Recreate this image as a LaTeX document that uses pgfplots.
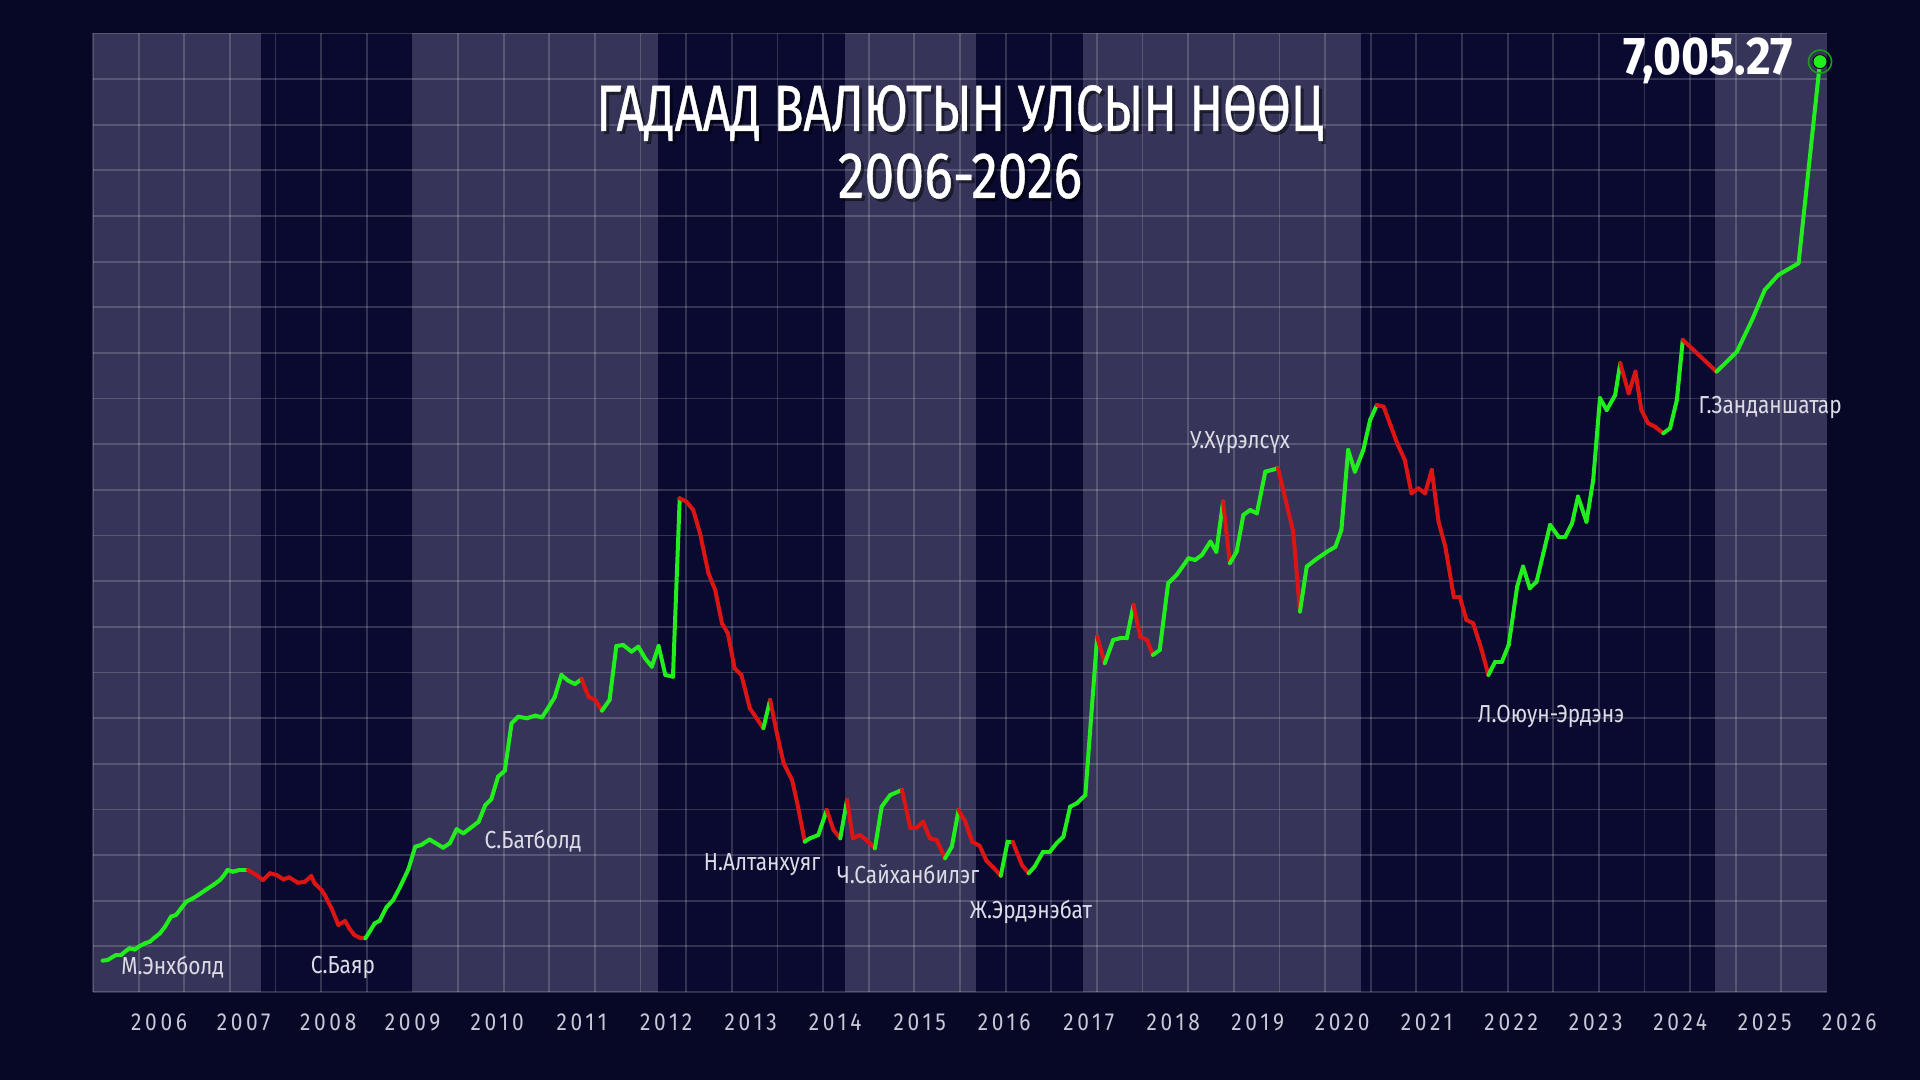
\documentclass[border=0pt]{standalone}
\usepackage{fontspec}
\usepackage{pgfplots}
\usepackage{pgfplotstable}
\pgfplotsset{compat=1.18}
\setmainfont{Fira Sans}
\newfontfamily\titlefont{Fira Sans}[FakeStretch=0.75,FakeBold=0.6]
\newfontfamily\subtitlefont{Fira Sans}[FakeStretch=0.82,FakeBold=0.6]
\newfontfamily\valfont{Fira Sans}[FakeStretch=0.9]
\newfontfamily\namefont{Fira Sans}[FakeStretch=0.85]
\newfontfamily\yearfont{Fira Sans}[FakeStretch=0.85,LetterSpace=15]

\definecolor{bgcol}{HTML}{070726}
\definecolor{banddark}{HTML}{0A0A30}
\definecolor{bandlight}{HTML}{363559}
\definecolor{lgreen}{HTML}{22EE1E}
\definecolor{lred}{HTML}{DD1414}
\definecolor{ringgreen}{HTML}{1C9A1C}
\definecolor{namecol}{HTML}{DCDCE6}
\definecolor{yearcol}{HTML}{C8C8D7}

% FX reserve, mln USD; c = 1 rising (green), 0 falling (red) segment
\pgfplotstableread{
x y c
2005.33 236 1
2005.39 241 1
2005.49 279 1
2005.55 279 1
2005.61 311 1
2005.65 329 1
2005.71 320 1
2005.77 346 1
2005.83 366 1
2005.89 379 1
2005.95 412 1
2006.01 442 1
2006.07 492 1
2006.14 567 1
2006.20 580 1
2006.26 630 1
2006.32 680 1
2006.40 705 1
2006.48 738 1
2006.56 773 1
2006.64 806 1
2006.72 843 1
2006.76 873 1
2006.81 919 1
2006.87 906 1
2006.95 919 1
2007.05 919 0
2007.15 881 0
2007.23 843 0
2007.31 894 0
2007.39 881 0
2007.47 848 0
2007.54 863 0
2007.64 823 0
2007.72 828 0
2007.80 873 0
2007.84 818 0
2007.92 768 0
2007.96 730 0
2008.04 630 0
2008.12 505 0
2008.20 535 0
2008.25 479 0
2008.31 429 0
2008.37 409 0
2008.44 404 1
2008.49 454 1
2008.55 517 1
2008.61 537 1
2008.69 638 1
2008.77 693 1
2008.85 790 1
2008.95 925 1
2009.03 1094 1
2009.10 1107 1
2009.20 1148 1
2009.36 1087 1
2009.44 1120 1
2009.52 1225 1
2009.60 1195 1
2009.68 1233 1
2009.78 1282 1
2009.86 1408 1
2009.93 1451 1
2010.01 1621 1
2010.09 1666 1
2010.17 2023 1
2010.25 2073 1
2010.35 2061 1
2010.45 2081 1
2010.53 2068 1
2010.60 2136 1
2010.68 2219 1
2010.76 2387 1
2010.84 2344 1
2010.92 2319 1
2011.00 2355 0
2011.08 2224 0
2011.16 2199 0
2011.24 2118 1
2011.33 2199 1
2011.41 2605 1
2011.49 2613 1
2011.59 2563 1
2011.67 2600 1
2011.75 2513 1
2011.83 2450 1
2011.91 2605 1
2011.99 2387 1
2012.08 2374 1
2012.16 3717 0
2012.24 3692 0
2012.32 3629 0
2012.40 3454 0
2012.50 3153 0
2012.58 3027 0
2012.66 2776 0
2012.73 2701 0
2012.81 2437 0
2012.89 2387 0
2012.99 2136 0
2013.07 2061 0
2013.15 1986 1
2013.23 2199 0
2013.31 1948 0
2013.39 1722 0
2013.49 1596 0
2013.56 1395 0
2013.64 1132 1
2013.70 1157 1
2013.80 1182 1
2013.90 1370 0
2013.98 1220 0
2014.06 1157 1
2014.14 1446 0
2014.21 1157 0
2014.29 1182 0
2014.37 1145 0
2014.47 1082 1
2014.55 1395 1
2014.65 1483 1
2014.79 1521 0
2014.89 1233 0
2014.96 1233 0
2015.04 1282 0
2015.12 1157 0
2015.20 1145 0
2015.30 1007 1
2015.38 1094 1
2015.46 1370 0
2015.54 1282 0
2015.62 1132 0
2015.71 1100 0
2015.79 988 0
2015.87 938 0
2015.96 875 1
2016.04 1132 1
2016.10 1132 0
2016.21 956 0
2016.29 894 1
2016.36 944 1
2016.46 1056 1
2016.54 1056 1
2016.62 1120 1
2016.70 1169 1
2016.78 1395 1
2016.86 1421 1
2016.96 1483 1
2017.10 2675 0
2017.19 2475 1
2017.29 2651 1
2017.37 2663 1
2017.45 2663 1
2017.53 2914 0
2017.61 2675 0
2017.69 2651 0
2017.76 2538 1
2017.84 2575 1
2017.94 3077 1
2018.04 3140 1
2018.18 3266 1
2018.26 3253 1
2018.34 3291 1
2018.44 3391 1
2018.51 3315 1
2018.59 3692 0
2018.67 3228 1
2018.75 3315 1
2018.83 3592 1
2018.91 3629 1
2018.99 3604 1
2019.09 3918 1
2019.24 3943 0
2019.32 3730 0
2019.42 3466 0
2019.50 2864 1
2019.58 3203 1
2019.68 3253 1
2019.82 3315 1
2019.92 3353 1
2019.99 3479 1
2020.07 4081 1
2020.15 3918 1
2020.25 4081 1
2020.33 4307 1
2020.41 4420 0
2020.49 4407 0
2020.57 4270 0
2020.65 4132 0
2020.74 4006 0
2020.82 3755 0
2020.90 3793 0
2020.98 3755 0
2021.06 3931 0
2021.14 3541 0
2021.22 3353 0
2021.32 2977 0
2021.39 2977 0
2021.47 2801 0
2021.55 2776 0
2021.65 2575 0
2021.73 2387 1
2021.81 2487 1
2021.89 2487 1
2021.97 2613 1
2022.07 3052 1
2022.14 3203 1
2022.22 3040 1
2022.30 3090 1
2022.38 3303 1
2022.46 3517 1
2022.56 3428 1
2022.64 3428 1
2022.72 3529 1
2022.79 3730 1
2022.89 3541 1
2022.97 3855 1
2023.05 4471 1
2023.13 4382 1
2023.23 4495 1
2023.29 4734 0
2023.39 4508 0
2023.47 4671 0
2023.54 4382 0
2023.62 4282 0
2023.70 4257 0
2023.80 4207 1
2023.88 4245 1
2023.96 4458 1
2024.03 4910 0
2024.43 4671 1
2024.67 4821 1
2024.85 5060 1
2025.00 5286 1
2025.16 5399 1
2025.40 5487 1
2025.654 7005.27 1
}\reserve

\begin{document}
\begin{tikzpicture}
\begin{axis}[
  at={(46.5pt,44pt)}, anchor=south west,
  scale only axis, width=866.75pt, height=479.3pt,
  xmin=2005.217, xmax=2025.731, ymin=0, ymax=7218,
  xtick={2005.217,2005.757,...,2025.8},
  ytick={0,343.7,...,7300},
  xticklabels={}, yticklabels={},
  major tick length=0pt,
  grid=major,
  grid style={line width=0.9pt, white, opacity=0.17},
  axis line style={draw=none},
  clip=false,
  set layers,
]
% page background and term bands, below the grid
\begin{pgfonlayer}{axis background}
\fill[bgcol] ([xshift=-46.5pt,yshift=-44pt]rel axis cs:0,0) rectangle ([xshift=913.5pt,yshift=496pt]rel axis cs:0,0);
\end{pgfonlayer}
\addplot[fill=banddark, draw=none, on layer=axis background] coordinates {(2005.217,7218) (2025.731,7218)} \closedcycle;
\addplot[fill=bandlight, draw=none, on layer=axis background] coordinates {(2005.217,7218) (2007.205,7218)} \closedcycle;
\addplot[fill=bandlight, draw=none, on layer=axis background] coordinates {(2009.004,7218) (2011.903,7218)} \closedcycle;
\addplot[fill=bandlight, draw=none, on layer=axis background] coordinates {(2014.118,7218) (2015.672,7218)} \closedcycle;
\addplot[fill=bandlight, draw=none, on layer=axis background] coordinates {(2016.927,7218) (2020.222,7218)} \closedcycle;
\addplot[fill=bandlight, draw=none, on layer=axis background] coordinates {(2024.411,7218) (2025.731,7218)} \closedcycle;

% reserve line
\addplot[mesh, shader=flat corner, point meta=explicit, point meta min=0, point meta max=1,
  colormap={rg}{color=(lred) color=(lgreen)},
  line width=2pt, line cap=round, line join=round]
  table[x=x, y=y, meta=c] {\reserve};

% end point
\addplot[only marks, mark=o, mark size=5.8pt, mark options={draw=ringgreen, line width=0.8pt}] coordinates {(2025.654,7005.27)};
\addplot[only marks, mark=*, mark size=3.5pt, mark options={fill=lgreen, draw=none}] coordinates {(2025.654,7005.27)};

% title
\node[anchor=base, black, opacity=0.45, font=\titlefont\fontsize{32.7}{36}\selectfont] at ([xshift=1.5pt,yshift=-1.5pt]axis cs:2015.477,6483) {ГАДААД ВАЛЮТЫН УЛСЫН НӨӨЦ};
\node[anchor=base, black, opacity=0.45, font=\subtitlefont\fontsize{32.7}{36}\selectfont] at ([xshift=1.5pt,yshift=-1.5pt]axis cs:2015.477,5979) {2006-2026};
\node[anchor=base, white, font=\titlefont\fontsize{32.7}{36}\selectfont] at (axis cs:2015.477,6483) {ГАДААД ВАЛЮТЫН УЛСЫН НӨӨЦ};
\node[anchor=base, white, font=\subtitlefont\fontsize{32.7}{36}\selectfont] at (axis cs:2015.477,5979) {2006-2026};

% last value
\node[anchor=base east, white, font=\valfont\bfseries\fontsize{26.6}{30}\selectfont] at (axis cs:2025.418,6905) {7,005.27};

% prime ministers
\begin{scope}[every node/.style={anchor=base, namecol, font=\namefont\fontsize{12.3}{14}\selectfont}]
\node at (axis cs:2006.16,132) {М.Энхболд};
\node at (axis cs:2008.175,139) {С.Баяр};
\node at (axis cs:2010.425,1081) {С.Батболд};
\node at (axis cs:2013.135,915) {Н.Алтанхуяг};
\node at (axis cs:2014.863,820) {Ч.Сайханбилэг};
\node at (axis cs:2016.317,550) {Ж.Эрдэнэбат};
\node at (axis cs:2018.792,4093) {У.Хүрэлсүх};
\node at (axis cs:2022.472,2029) {Л.Оюун-Эрдэнэ};
\node at (axis cs:2025.064,4356) {Г.Занданшатар};
\end{scope}

% year labels
\pgfplotsinvokeforeach{2006,...,2026}{
  \node[anchor=center, yearcol, font=\yearfont\fontsize{12.3}{14}\selectfont] at (axis cs:#1,-230) {#1};
}
\end{axis}
\end{tikzpicture}
\end{document}
